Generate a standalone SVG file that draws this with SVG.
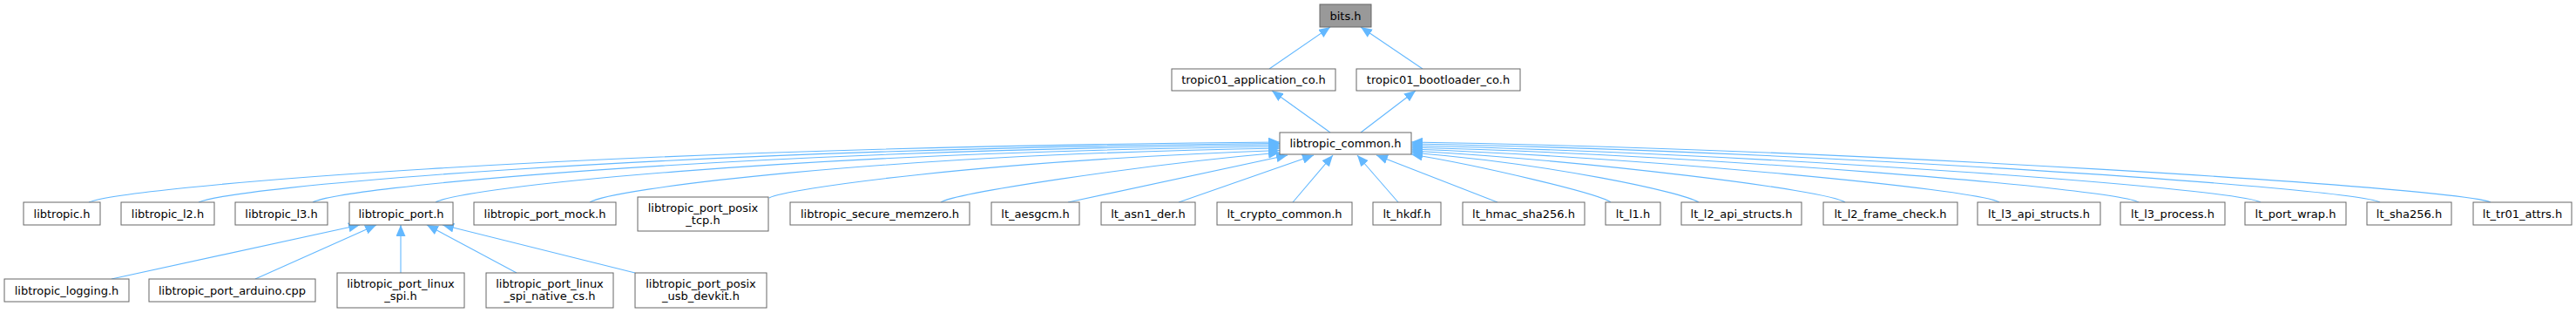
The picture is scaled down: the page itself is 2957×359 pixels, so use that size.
<svg xmlns="http://www.w3.org/2000/svg" width="2957" height="359" viewBox="0 0 2957 359">
<style>
.n rect{fill:#ffffff;stroke:#666666;stroke-width:1}
.n.root rect{fill:#999999}
.n text{font-family:"DejaVu Sans",sans-serif;font-size:13px;fill:#000000;text-anchor:middle}
.e path{fill:none;stroke:#63b8ff;stroke-width:1.1;marker-end:url(#ah)}
</style>
<defs>
<marker id="ah" markerUnits="userSpaceOnUse" markerWidth="13" markerHeight="11" viewBox="0 0 13 11" refX="13" refY="5.5" orient="auto">
<path d="M0,0 L13,5.5 L0,11 z" fill="#63b8ff"/>
</marker>
</defs>
<rect width="2957" height="359" fill="#ffffff"/>
<g id="edges" class="e">
<path d="M1457,79 L1527,31"/>
<path d="M1633,79 L1562,31"/>
<path d="M1527,152 L1460,104"/>
<path d="M1562,152 L1625,104"/>
<path d="M102,232 C143,215 644,170 1469,163"/>
<path d="M228,232 C265,215 724,172 1469,164.5"/>
<path d="M359,232 C392,215 803,174 1469,166"/>
<path d="M500,232 C530,215 890,176 1469,168"/>
<path d="M677,232 C700,217 997,178 1469,170"/>
<path d="M883,227 C900,217 1120,185 1469,172.5"/>
<path d="M1080,232 C1095,222 1300,190 1469,175"/>
<path d="M1226,232 L1478,178"/>
<path d="M1353,232 L1508,178"/>
<path d="M1484,232 L1530,178"/>
<path d="M1605,232 L1558,178"/>
<path d="M1719,232 L1580,178"/>
<path d="M1849,232 C1835,222 1700,190 1620,177"/>
<path d="M1950,232 C1930,220 1780,188 1620,175"/>
<path d="M2118,232 C2100,218 1820,184 1620,173"/>
<path d="M2295,232 C2270,217 1890,181 1620,171"/>
<path d="M2455,232 C2430,216 1955,178 1620,169"/>
<path d="M2595,232 C2565,215 2010,176 1620,167"/>
<path d="M2732,232 C2700,215 2065,173 1620,165"/>
<path d="M2859,232 C2820,215 2115,171 1620,163"/>
<path d="M128,320 L413,258"/>
<path d="M293,320 L432,258"/>
<path d="M460,313 L460,258"/>
<path d="M593,313 L490,258"/>
<path d="M729,313 L508,258"/>
</g>
<g id="n_bits" class="n root"><rect x="1515" y="5" width="59" height="26"/><text x="1544.5" y="22.5">bits.h</text></g>
<g id="n_app" class="n"><rect x="1345" y="79" width="188" height="25"/><text x="1439" y="96">tropic01_application_co.h</text></g>
<g id="n_boot" class="n"><rect x="1557" y="79" width="188" height="25"/><text x="1651" y="96">tropic01_bootloader_co.h</text></g>
<g id="n_common" class="n"><rect x="1469" y="152" width="151" height="25"/><text x="1544.5" y="169">libtropic_common.h</text></g>
<g id="n_libtropic" class="n"><rect x="27" y="232" width="88" height="26"/><text x="71" y="249.5">libtropic.h</text></g>
<g id="n_l2" class="n"><rect x="139" y="232" width="107" height="26"/><text x="192.5" y="249.5">libtropic_l2.h</text></g>
<g id="n_l3" class="n"><rect x="270" y="232" width="106" height="26"/><text x="323" y="249.5">libtropic_l3.h</text></g>
<g id="n_port" class="n"><rect x="401" y="232" width="119" height="26"/><text x="460.5" y="249.5">libtropic_port.h</text></g>
<g id="n_mock" class="n"><rect x="544" y="232" width="163" height="26"/><text x="625.5" y="249.5">libtropic_port_mock.h</text></g>
<g id="n_tcp" class="n"><rect x="732" y="226" width="150" height="39"/><text x="807" y="242.5">libtropic_port_posix</text><text x="807" y="256.5">_tcp.h</text></g>
<g id="n_memzero" class="n"><rect x="907" y="232" width="206" height="26"/><text x="1010" y="249.5">libtropic_secure_memzero.h</text></g>
<g id="n_aesgcm" class="n"><rect x="1138" y="232" width="101" height="26"/><text x="1188.5" y="249.5">lt_aesgcm.h</text></g>
<g id="n_asn1" class="n"><rect x="1264" y="232" width="108" height="26"/><text x="1318" y="249.5">lt_asn1_der.h</text></g>
<g id="n_crypto" class="n"><rect x="1397" y="232" width="155" height="26"/><text x="1474.5" y="249.5">lt_crypto_common.h</text></g>
<g id="n_hkdf" class="n"><rect x="1576" y="232" width="78" height="26"/><text x="1615" y="249.5">lt_hkdf.h</text></g>
<g id="n_hmac" class="n"><rect x="1679" y="232" width="140" height="26"/><text x="1749" y="249.5">lt_hmac_sha256.h</text></g>
<g id="n_l1" class="n"><rect x="1843" y="232" width="63" height="26"/><text x="1874.5" y="249.5">lt_l1.h</text></g>
<g id="n_l2api" class="n"><rect x="1930" y="232" width="138" height="26"/><text x="1999" y="249.5">lt_l2_api_structs.h</text></g>
<g id="n_l2frame" class="n"><rect x="2093" y="232" width="154" height="26"/><text x="2170" y="249.5">lt_l2_frame_check.h</text></g>
<g id="n_l3api" class="n"><rect x="2270" y="232" width="141" height="26"/><text x="2340.5" y="249.5">lt_l3_api_structs.h</text></g>
<g id="n_l3proc" class="n"><rect x="2434" y="232" width="120" height="26"/><text x="2494" y="249.5">lt_l3_process.h</text></g>
<g id="n_wrap" class="n"><rect x="2577" y="232" width="116" height="26"/><text x="2635" y="249.5">lt_port_wrap.h</text></g>
<g id="n_sha" class="n"><rect x="2717" y="232" width="97" height="26"/><text x="2765.5" y="249.5">lt_sha256.h</text></g>
<g id="n_tr01" class="n"><rect x="2839" y="232" width="113" height="26"/><text x="2895.5" y="249.5">lt_tr01_attrs.h</text></g>
<g id="n_logging" class="n"><rect x="5" y="320" width="143" height="26"/><text x="76.5" y="337.5">libtropic_logging.h</text></g>
<g id="n_arduino" class="n"><rect x="171" y="320" width="191" height="26"/><text x="266.5" y="337.5">libtropic_port_arduino.cpp</text></g>
<g id="n_spi" class="n"><rect x="387" y="313" width="146" height="40"/><text x="460" y="330">libtropic_port_linux</text><text x="460" y="344">_spi.h</text></g>
<g id="n_native" class="n"><rect x="558" y="313" width="146" height="40"/><text x="631" y="330">libtropic_port_linux</text><text x="631" y="344">_spi_native_cs.h</text></g>
<g id="n_usb" class="n"><rect x="729" y="313" width="151" height="40"/><text x="804.5" y="330">libtropic_port_posix</text><text x="804.5" y="344">_usb_devkit.h</text></g>
</svg>
